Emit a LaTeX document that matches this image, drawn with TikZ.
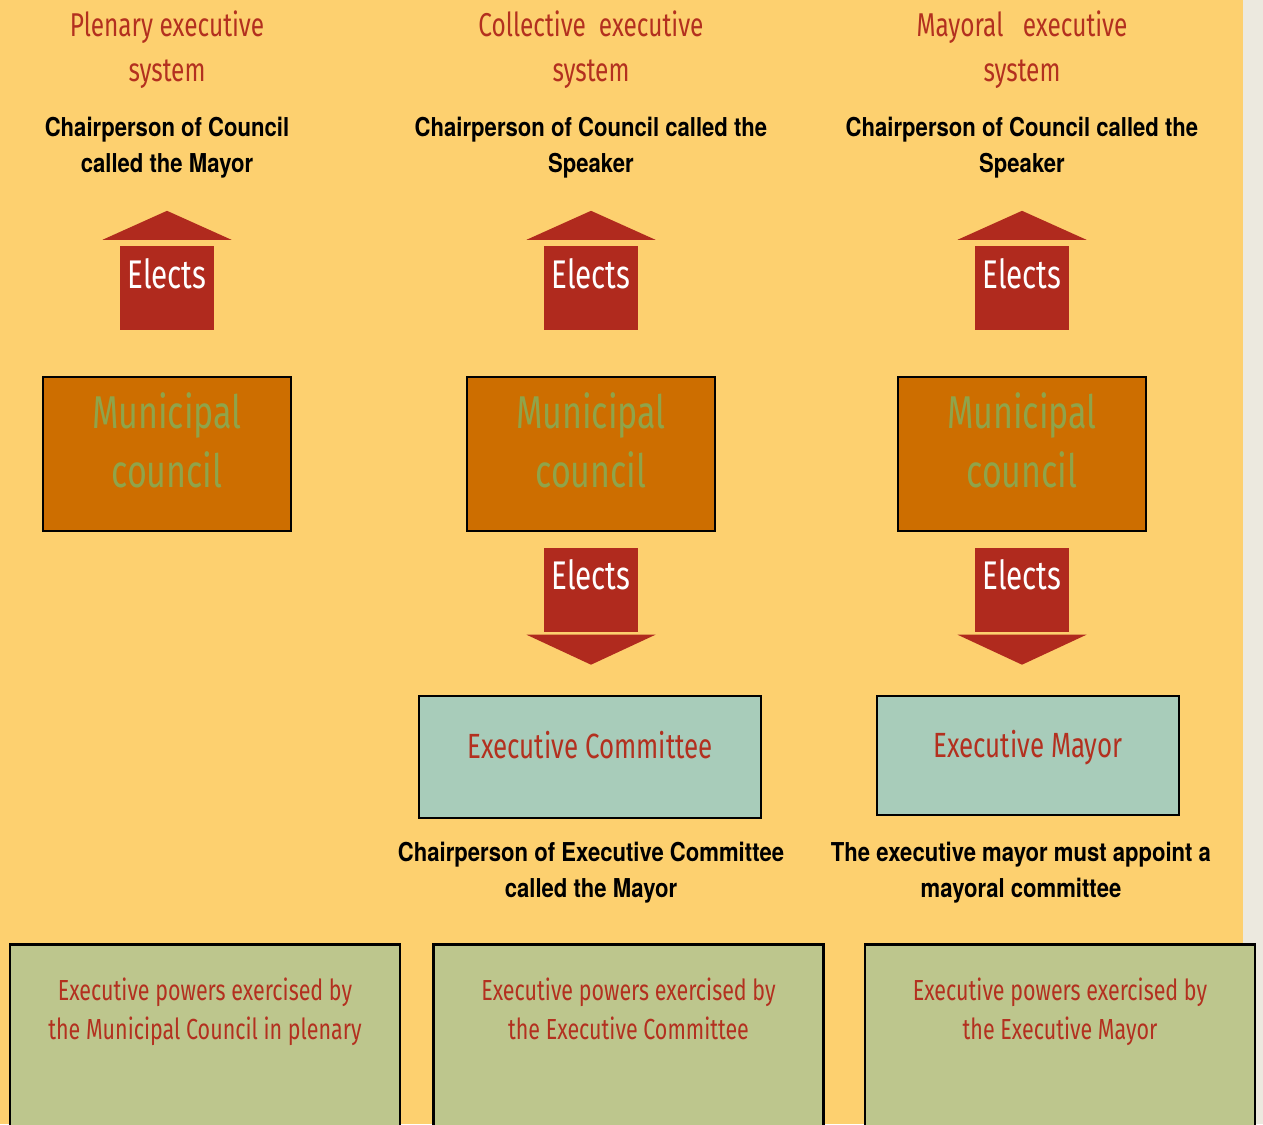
\documentclass[tikz,border=0pt]{standalone}
\usepackage{fontspec}
\setmainfont{Fira Sans}[FakeStretch=0.74]
\newfontfamily\chairfont{TeX Gyre Heros}[FakeStretch=0.85]
\usetikzlibrary{positioning}

\definecolor{bgyellow}{HTML}{FDD06F}
\definecolor{greystrip}{HTML}{ECE9DF}
\definecolor{titlered}{HTML}{B3301F}
\definecolor{electred}{HTML}{B02A1E}
\definecolor{councilorange}{HTML}{CD6E00}
\definecolor{councilgreen}{HTML}{8FA44A}
\definecolor{execteal}{HTML}{A8CCBA}
\definecolor{powergreen}{HTML}{BDC68D}

\tikzset{
    title/.style={text=titlered, align=center, font=\fontsize{33}{45}\selectfont},
    chair/.style={align=center, font=\chairfont\bfseries\fontsize{26}{36}\selectfont},
    shaft/.style={fill=electred, text=white, minimum width=94pt, minimum height=84pt, inner sep=0pt,
        text height=28pt, text depth=28pt, font=\fontsize{40}{40}\selectfont},
    council/.style={draw=black, line width=2.5pt, fill=councilorange,
        minimum width=248pt, minimum height=154pt, inner sep=0pt},
    counciltext/.style={text=councilgreen, align=center, font=\fontsize{46}{59}\selectfont},
    executive/.style={draw=black, line width=2.5pt, fill=execteal, text=titlered, inner sep=0pt,
        text height=25pt, text depth=22pt, font=\fontsize{35}{35}\selectfont},
    powers/.style={draw=black, line width=2.5pt, fill=powergreen, anchor=north,
        minimum width=390pt, minimum height=220pt},
    powertext/.style={text=titlered, align=center, font=\fontsize{29}{39}\selectfont},
}

\begin{document}
\begin{tikzpicture}[x=1pt,y=-1pt]
    \useasboundingbox (0,0) rectangle (1263,1124);
    \clip (0,0) rectangle (1263,1124);
    \fill[bgyellow] (0,0) rectangle (1243,1124);
    \fill[greystrip] (1243,0) rectangle (1263,1124);

    % plenary
    \node[title] (plenaryTitle) at (167,50) {Plenary executive\\system};
    \node[chair] (plenaryChair) at (167,148) {Chairperson of Council\\called the Mayor};
    \node[shaft] (plenaryUp) at (167,288) {Elects};
    \fill[electred] ([xshift=-64.5pt,yshift=6pt]plenaryUp.north) -- ([yshift=35pt]plenaryUp.north) -- ([xshift=64.5pt,yshift=6pt]plenaryUp.north) -- cycle;
    \node[council] (plenaryCouncil) at (167,454) {};
    \node[counciltext] (plenaryCouncilText) at ([yshift=14pt]plenaryCouncil.center) {Municipal\\council};
    \node[powers] (plenaryPowers) at (205,943) {};
    \node[powertext] (plenaryPowersText) at ([yshift=-69pt]plenaryPowers.north) {Executive powers exercised by\\the Municipal Council in plenary};

    % collective
    \node[title] (collectiveTitle) at (591,50) {Collective\ \ executive\\system};
    \node[chair] (collectiveChair) at (591,148) {Chairperson of Council called the\\Speaker};
    \node[shaft] (collectiveUp) at (591,288) {Elects};
    \fill[electred] ([xshift=-64.5pt,yshift=6pt]collectiveUp.north) -- ([yshift=35pt]collectiveUp.north) -- ([xshift=64.5pt,yshift=6pt]collectiveUp.north) -- cycle;
    \node[council] (collectiveCouncil) at (591,454) {};
    \node[counciltext] (collectiveCouncilText) at ([yshift=14pt]collectiveCouncil.center) {Municipal\\council};
    \node[shaft] (collectiveDown) at (591,589.5) {Elects};
    \fill[electred] ([xshift=-64.5pt,yshift=-3pt]collectiveDown.south) -- ([yshift=-33pt]collectiveDown.south) -- ([xshift=64.5pt,yshift=-3pt]collectiveDown.south) -- cycle;
    \node[executive, minimum width=342pt, minimum height=122pt] (execCommittee) at (590,757) {Executive Committee};
    \node[chair] (collectiveChairBelow) at (591,873) {Chairperson of Executive Committee\\called the Mayor};
    \node[powers] (collectivePowers) at (628.5,943) {};
    \node[powertext] (collectivePowersText) at ([yshift=-66pt]collectivePowers.north) {Executive powers exercised by\\the Executive Committee};

    % mayoral
    \node[title] (mayoralTitle) at (1022,50) {Mayoral\ \ \ executive\\system};
    \node[chair] (mayoralChair) at (1022,148) {Chairperson of Council called the\\Speaker};
    \node[shaft] (mayoralUp) at (1022,288) {Elects};
    \fill[electred] ([xshift=-64.5pt,yshift=6pt]mayoralUp.north) -- ([yshift=35pt]mayoralUp.north) -- ([xshift=64.5pt,yshift=6pt]mayoralUp.north) -- cycle;
    \node[council] (mayoralCouncil) at (1022,454) {};
    \node[counciltext] (mayoralCouncilText) at ([yshift=14pt]mayoralCouncil.center) {Municipal\\council};
    \node[shaft] (mayoralDown) at (1022,589.5) {Elects};
    \fill[electred] ([xshift=-64.5pt,yshift=-3pt]mayoralDown.south) -- ([yshift=-33pt]mayoralDown.south) -- ([xshift=64.5pt,yshift=-3pt]mayoralDown.south) -- cycle;
    \node[executive, minimum width=302pt, minimum height=119pt] (execMayor) at (1028,755.5) {Executive Mayor};
    \node[chair] (mayoralChairBelow) at (1021,873) {The executive mayor must appoint a\\mayoral committee};
    \node[powers] (mayoralPowers) at (1060,943) {};
    \node[powertext] (mayoralPowersText) at ([yshift=-69pt]mayoralPowers.north) {Executive powers exercised by\\the Executive Mayor};
\end{tikzpicture}
\end{document}
